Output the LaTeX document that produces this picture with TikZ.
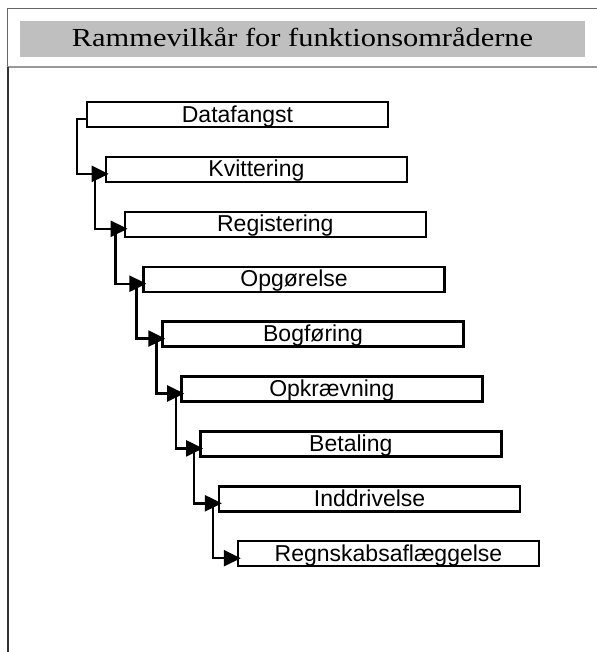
\documentclass[tikz,border=0pt]{standalone}
\usepackage{fontspec}
\setmainfont{Liberation Sans}
\newfontfamily\titlefont[FakeStretch=1.17]{Liberation Serif}
\usepackage{tikz}
\usetikzlibrary{arrows.meta,shapes}

\begin{document}
\begin{tikzpicture}[
  box/.style={draw,line width=2.4bp,minimum width=301bp,minimum height=25bp,inner sep=0pt,
    text height=16.5bp,text depth=1.5bp,font=\fontsize{23bp}{25bp}\selectfont},
  conn/.style={-{Triangle[length=17bp,width=16bp]},line width=2.4bp}]
\useasboundingbox (0bp,0bp) rectangle (597bp,-652bp);

% ramme
\draw [line width=1bp,color=black!60] (7bp,-67bp) -- (7bp,-8bp) -- (597bp,-8bp);
\draw [line width=1.5bp,color=black!40] (7bp,-67bp) -- (597bp,-67bp);
\draw [line width=2bp,color=black!80] (8bp,-67bp) -- (8bp,-652bp);
\node (T) at (302.5bp,-39bp)[fill=gray!50,minimum width=565bp,minimum height=36bp,inner sep=0pt,
  text height=18bp,text depth=3bp,font=\titlefont\fontsize{26bp}{28bp}\selectfont] {Rammevilkår for funktionsområderne};

% funktioner
\node (F1) at (237.5bp,-114.5bp)[box] {Datafangst};
\node (F2) at (256.4bp,-169.4bp)[box] {Kvittering};
\node (F3) at (275.3bp,-224.3bp)[box] {Registering};
\node (F4) at (294.1bp,-279.2bp)[box] {Opgørelse};
\node (F5) at (313.0bp,-334.1bp)[box] {Bogføring};
\node (F6) at (331.9bp,-389.0bp)[box] {Opkrævning};
\node (F7) at (350.8bp,-443.9bp)[box] {Betaling};
\node (F8) at (369.6bp,-498.8bp)[box] {Inddrivelse};
\node (F9) at (388.5bp,-553.7bp)[box] {Regnskabsaflæggelse};

\draw [conn] ([yshift=-4.5bp]F1.west) -- ++(-9bp,0) |- ([xshift=4bp,yshift=-4.5bp]F2.west);
\draw [conn] ([yshift=-4.5bp]F2.west) -- ++(-10bp,0) |- ([xshift=4bp,yshift=-4.5bp]F3.west);
\draw [conn] ([yshift=-4.5bp]F3.west) -- ++(-8bp,0) |- ([xshift=4bp,yshift=-4.5bp]F4.west);
\draw [conn] ([yshift=-4.5bp]F4.west) -- ++(-6bp,0) |- ([xshift=4bp,yshift=-4.5bp]F5.west);
\draw [conn] ([yshift=-4.5bp]F5.west) -- ++(-5bp,0) |- ([xshift=4bp,yshift=-4.5bp]F6.west);
\draw [conn] ([yshift=-4.5bp]F6.west) -- ++(-4bp,0) |- ([xshift=4bp,yshift=-4.5bp]F7.west);
\draw [conn] ([yshift=-4.5bp]F7.west) -- ++(-5bp,0) |- ([xshift=4bp,yshift=-4.5bp]F8.west);
\draw [conn] ([yshift=-4.5bp]F8.west) -- ++(-5bp,0) |- ([xshift=4bp,yshift=-4.5bp]F9.west);
\end{tikzpicture}
\end{document}
